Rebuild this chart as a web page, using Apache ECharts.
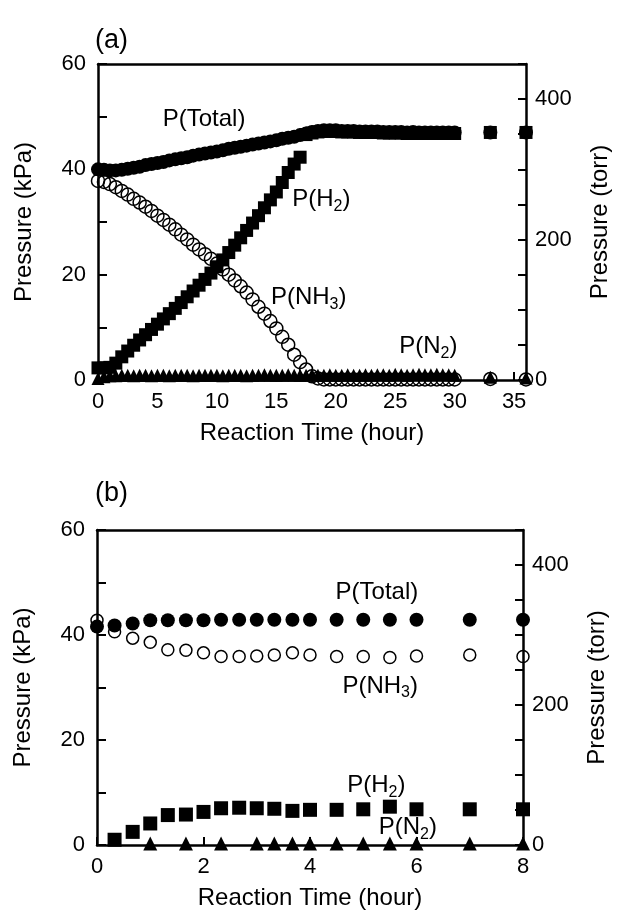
<!DOCTYPE html>
<html><head><meta charset="utf-8">
<script src="https://cdn.jsdelivr.net/npm/echarts@6/dist/echarts.min.js"></script>
<style>html,body{margin:0;padding:0;background:#fff}#c{width:621px;height:918px}</style>
</head><body><div id="c"></div>
<script>
// ---------- Panel (a) data ----------
const timesA = [0,0.5,1,1.5,2,2.5,3,3.5,4,4.5,5,5.5,6,6.5,7,7.5,8,8.5,9,9.5,10,10.5,11,11.5,12,12.5,13,13.5,14,14.5,15,15.5,16,16.5,17,17.5,18,18.5,19,19.5,20,20.5,21,21.5,22,22.5,23,23.5,24,24.5,25,25.5,26,26.5,27,27.5,28,28.5,29,29.5,30,33,36];
const totalA = [40.0,39.9,39.8,39.8,39.9,40.1,40.3,40.5,40.8,41.0,41.2,41.4,41.7,41.9,42.1,42.3,42.6,42.8,43.0,43.2,43.4,43.6,43.9,44.1,44.3,44.5,44.7,44.9,45.1,45.3,45.5,45.8,46.0,46.2,46.5,46.8,47.1,47.3,47.4,47.4,47.4,47.3,47.3,47.3,47.2,47.2,47.2,47.2,47.1,47.1,47.1,47.1,47.0,47.1,47.0,47.0,47.0,47.0,47.0,47.0,47.0,47.0,47.0];
const nh3A = [37.8,37.6,37.2,36.6,35.9,35.2,34.4,33.7,32.9,32.1,31.2,30.4,29.5,28.6,27.6,26.7,25.7,24.8,23.9,23.0,22.1,21.0,20.0,18.9,17.8,16.6,15.3,13.9,12.6,11.2,9.8,8.2,6.7,4.8,3.4,2.0,0.7,0.3,0.1,0.1,0.1,0.1,0.1,0.1,0.1,0.1,0.1,0.1,0.1,0.1,0.1,0.1,0.1,0.1,0.1,0.1,0.1,0.1,0.1,0.1,0.1,0.2,0.1];
const h2A = [2.3,2.3,2.4,3.2,4.4,5.5,6.6,7.6,8.6,9.6,10.6,11.6,12.6,13.6,14.7,15.8,16.9,18.0,19.1,20.3,21.5,22.8,24.2,25.6,27.0,28.4,29.8,31.2,32.7,34.2,35.7,37.5,39.4,41.0,42.3,46.6,46.9,47.1,47.2,47.2,47.2,47.1,47.1,47.1,47.0,47.0,47.0,47.0,46.9,46.9,46.9,46.9,46.8,46.9,46.8,46.8,46.8,46.8,46.8,46.8,46.8,47.0,47.0];
const n2A = [0.3,0.6,0.8,0.8,0.9,0.9,0.8,0.9,0.9,0.8,0.9,0.9,0.8,0.9,0.9,0.9,0.8,0.9,0.9,0.9,0.9,0.8,0.9,0.9,0.9,0.8,0.9,0.9,1.0,0.9,0.9,0.9,1.0,0.9,0.9,0.9,1.0,0.9,0.9,1.0,0.9,0.9,1.0,0.9,0.9,1.0,0.9,1.0,1.0,0.9,1.1,1.0,0.9,1.0,1.1,1.0,1.0,1.1,1.0,1.0,0.9,0.5,0.4];

// ---------- Panel (b) data ----------
const timesB = [0,0.33,0.67,1,1.33,1.67,2,2.33,2.67,3,3.33,3.67,4,4.5,5,5.5,6,7,8];
const totalB = [41.6,41.8,42.2,42.8,42.8,42.8,42.8,42.9,42.9,42.9,42.9,42.9,42.9,42.9,42.9,42.9,42.9,42.9,42.9];
const nh3B = [42.8,40.6,39.4,38.6,37.2,37.1,36.6,35.9,35.9,36.0,36.2,36.6,36.2,35.9,35.9,35.7,36.0,36.2,35.9];
const h2B = [null,1.0,2.5,4.1,5.7,5.8,6.3,7.0,7.1,7.0,6.9,6.5,6.7,6.7,6.8,7.3,6.8,6.8,6.8];
const n2B = [null,null,null,0.3,null,0.3,null,0.3,null,0.3,0.3,0.3,0.3,0.3,0.3,0.3,0.3,0.3,0.3];

// ---------- Text ----------
const panelTitles = ['(a)', '(b)'];
const xAxisName = 'Reaction Time (hour)';
const yLeftName = 'Pressure (kPa)';
const yRightName = 'Pressure (torr)';
// label anchors [time, kPa]
const labelsA = [
  {text:'{m|P(Total)}', at:[5.4, 49.5]},
  {text:'{m|P(H}{s|2}{m|)}', at:[16.3, 34.3]},
  {text:'{m|P(NH}{s|3}{m|)}', at:[14.5, 15.7]},
  {text:'{m|P(N}{s|2}{m|)}', at:[25.3, 6.3]}
];
const labelsB = [
  {text:'{m|P(Total)}', at:[4.47, 48.2]},
  {text:'{m|P(NH}{s|3}{m|)}', at:[4.6, 30.3]},
  {text:'{m|P(H}{s|2}{m|)}', at:[4.69, 11.4]},
  {text:'{m|P(N}{s|2}{m|)}', at:[5.28, 3.3]}
];

const FONT = '"Liberation Sans", Arial, Helvetica, sans-serif';
const pair = (ts, vs) => ts.map((t,i) => vs[i] == null ? null : [t, vs[i]]).filter(d => d);

function xAxes(g, max, interval) {
  return [{
    gridIndex:g, type:'value', min:0, max:max, interval:interval,
    axisLine:{onZero:false, lineStyle:{color:'#000', width:2.5}},
    axisTick:{inside:true, length:8, lineStyle:{color:'#000', width:2}},
    axisLabel:{color:'#000', fontSize:22, fontFamily:FONT, margin:11},
    splitLine:{show:false},
    name:xAxisName, nameLocation:'middle', nameGap:41,
    nameTextStyle:{color:'#000', fontSize:24, fontFamily:FONT}
  },{
    gridIndex:g, type:'value', position:'top', min:0, max:max,
    axisLine:{onZero:false, lineStyle:{color:'#000', width:2.5}},
    axisTick:{show:false}, axisLabel:{show:false}, splitLine:{show:false}
  }];
}
function yAxes(g) {
  return [{
    gridIndex:g, type:'value', position:'left', min:0, max:60, interval:10,
    axisLine:{show:true, onZero:false, lineStyle:{color:'#000', width:2.5}},
    axisTick:{show:true, inside:true, length:9, lineStyle:{color:'#000', width:2}},
    axisLabel:{color:'#000', fontSize:22, fontFamily:FONT, margin:12,
      formatter: v => (v % 20 === 0 ? String(v) : '')},
    splitLine:{show:false},
    name:yLeftName, nameLocation:'middle', nameGap:62, nameRotate:90,
    nameTextStyle:{color:'#000', fontSize:24, fontFamily:FONT}
  },{
    gridIndex:g, type:'value', position:'right', min:0, max:450, interval:50,
    axisLine:{show:true, onZero:false, lineStyle:{color:'#000', width:2.5}},
    axisTick:{show:true, inside:true, length:8, lineStyle:{color:'#000', width:2}},
    axisLabel:{color:'#000', fontSize:22, fontFamily:FONT, margin:9,
      formatter: v => (v % 200 === 0 ? String(v) : '')},
    splitLine:{show:false},
    name:yRightName, nameLocation:'middle', nameGap:62, nameRotate:90,
    nameTextStyle:{color:'#000', fontSize:24, fontFamily:FONT}
  }];
}

function markers(xi, yi, ts, tot, nh3, h2, n2, sz) {
  return [
    {type:'scatter', xAxisIndex:xi, yAxisIndex:yi, clip:false, data:pair(ts, nh3),
     symbol:'circle', symbolSize:sz.o,
     itemStyle:{color:'rgba(255,255,255,0)', borderColor:'#000', borderWidth:1.5, opacity:1}},
    {type:'scatter', xAxisIndex:xi, yAxisIndex:yi, clip:false, data:pair(ts, tot),
     symbol:'circle', symbolSize:sz.c, itemStyle:{color:'#000', opacity:1}},
    {type:'scatter', xAxisIndex:xi, yAxisIndex:yi, clip:false, data:pair(ts, h2),
     symbol:'rect', symbolSize:sz.r, itemStyle:{color:'#000', opacity:1}},
    {type:'scatter', xAxisIndex:xi, yAxisIndex:yi, clip:false, data:pair(ts, n2),
     symbol:'triangle', symbolSize:sz.t, itemStyle:{color:'#000', opacity:1}}
  ];
}
function labelSeries(xi, yi, labels) {
  return {
    type:'scatter', xAxisIndex:xi, yAxisIndex:yi, clip:false, silent:true,
    symbolSize:1, itemStyle:{color:'rgba(0,0,0,0)', opacity:1},
    data: labels.map(l => ({value:l.at, lbl:l.text})),
    label:{show:true, position:'right', distance:0, opacity:1,
      formatter: p => p.data.lbl,
      rich:{
        m:{fontSize:24, fontFamily:FONT, color:'#000', lineHeight:30, verticalAlign:'middle'},
        s:{fontSize:16, fontFamily:FONT, color:'#000', lineHeight:16, verticalAlign:'bottom'}
      }}
  };
}

const chart = echarts.init(document.getElementById('c'), null, {renderer:'canvas'});
chart.setOption({
  animation:false,
  backgroundColor:'#fff',
  grid:[
    {left:98, right:95, top:64, height:316},
    {left:97, right:98, top:530, height:315}
  ],
  xAxis:[...xAxes(0, 36, 5), ...xAxes(1, 8, 2)],
  yAxis:[...yAxes(0), ...yAxes(1)],
  graphic:[
    {type:'text', left:95, top:27, style:{text:panelTitles[0], font:'27px ' + FONT, fill:'#000'}},
    {type:'text', left:95, top:480, style:{text:panelTitles[1], font:'27px ' + FONT, fill:'#000'}}
  ],
  series:[
    ...markers(0, 0, timesA, totalA, nh3A, h2A, n2A, {o:13, c:14, r:13, t:13}),
    labelSeries(0, 0, labelsA),
    ...markers(2, 2, timesB, totalB, nh3B, h2B, n2B, {o:12, c:14, r:14, t:14}),
    labelSeries(2, 2, labelsB)
  ]
});
</script></body></html>
